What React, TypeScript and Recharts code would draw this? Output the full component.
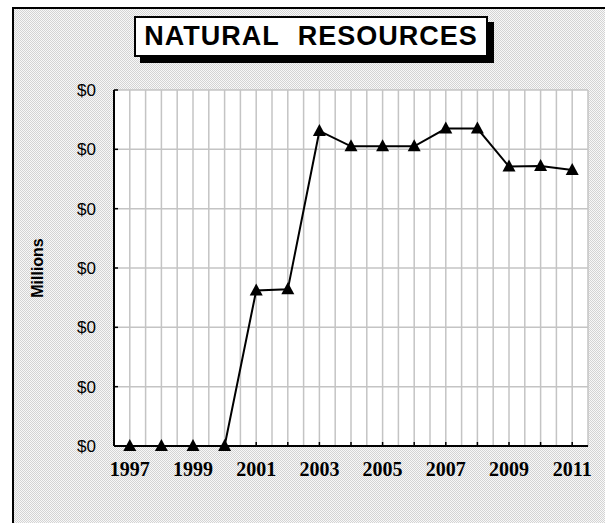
import { LineChart, Line, XAxis, YAxis, CartesianGrid } from 'recharts'

const years = [
  '1997', '1998', '1999', '2000', '2001', '2002', '2003', '2004',
  '2005', '2006', '2007', '2008', '2009', '2010', '2011',
]
const resources = [0, 0, 0, 0, 2.62, 2.64, 5.31, 5.05, 5.05, 5.05, 5.35, 5.35, 4.71, 4.72, 4.65]
const yTicks = [0, 1, 2, 3, 4, 5, 6]
const yTickLabels = ['$0', '$0', '$0', '$0', '$0', '$0', '$0']

const data = years.map((year, i) => ({ year, value: resources[i] }))

const pattern = 'repeating-conic-gradient(#d4d4d4 0 25%, #f8f8f8 0 50%) 0 0 / 2px 2px'

function Triangle(props: any) {
  const { cx, cy } = props
  if (cx == null || cy == null) return <g />
  return (
    <polygon
      points={`${cx},${cy - 7} ${cx - 6.5},${cy + 5} ${cx + 6.5},${cy + 5}`}
      fill="#000"
    />
  )
}

function YearTick(props: any) {
  const { x, y, payload } = props
  // label every other year, tick marks stay on all of them
  if (years.indexOf(payload.value) % 2 !== 0) return <g />
  return (
    <text
      x={x}
      y={y}
      dy="0.71em"
      textAnchor="middle"
      fontFamily="'Liberation Serif', 'Times New Roman', serif"
      fontWeight="bold"
      fontSize={20}
      fill="#000"
    >
      {payload.value}
    </text>
  )
}

function MillionsLabel(props: any) {
  const { viewBox } = props
  const x = viewBox.x + 37
  const y = viewBox.y + viewBox.height / 2
  return (
    <text
      x={x}
      y={y}
      transform={`rotate(-90 ${x} ${y})`}
      textAnchor="middle"
      dominantBaseline="central"
      fontFamily="'Liberation Sans', Arial, sans-serif"
      fontWeight="bold"
      fontSize={16}
      fill="#000"
    >
      Millions
    </text>
  )
}

export default function App() {
  return (
    <div style={{ position: 'fixed', left: 0, top: 0, width: 605, height: 523, background: '#fff' }}>
      <div
        style={{
          position: 'absolute',
          left: 12,
          top: 7,
          width: 593,
          height: 516,
          borderTop: '2px solid #000',
          borderLeft: '2px solid #000',
          boxSizing: 'border-box',
          background: pattern,
        }}
      />
      <div
        style={{
          position: 'absolute',
          left: 134,
          top: 16,
          width: 354,
          height: 41,
          border: '2px solid #000',
          boxSizing: 'border-box',
          background: '#fff',
          boxShadow: '6px 6px 0 #000',
          display: 'flex',
          alignItems: 'center',
          justifyContent: 'center',
          fontFamily: "'Liberation Sans', Arial, sans-serif",
          fontWeight: 'bold',
          fontSize: 27,
          letterSpacing: 1,
          wordSpacing: 10,
          color: '#000',
        }}
      >
        NATURAL RESOURCES
      </div>
      <div style={{ position: 'absolute', left: 0, top: 0 }}>
        <LineChart width={605} height={523} data={data} margin={{ top: 90, right: 17, bottom: 0, left: 0 }}>
          <CartesianGrid
            fill="#fff"
            stroke="#c4c4c4"
            strokeWidth={1.5}
            verticalCoordinatesGenerator={({ offset }: any) =>
              Array.from({ length: years.length * 2 + 1 }, (_, i) => offset.left + (offset.width * i) / (years.length * 2))
            }
          />
          <XAxis
            dataKey="year"
            scale="band"
            interval={0}
            height={77}
            axisLine={{ stroke: '#000', strokeWidth: 2 }}
            tickLine={{ stroke: '#000', strokeWidth: 1.5 }}
            tickSize={-4}
            tickMargin={20}
            tick={<YearTick />}
          />
          <XAxis
            xAxisId="top"
            orientation="top"
            dataKey="year"
            scale="band"
            height={0}
            tick={false}
            tickLine={false}
            axisLine={{ stroke: '#000', strokeWidth: 2 }}
          />
          <YAxis
            domain={[0, 6]}
            ticks={yTicks}
            width={114}
            interval={0}
            axisLine={{ stroke: '#000', strokeWidth: 2 }}
            tickLine={{ stroke: '#000', strokeWidth: 1.5 }}
            tickSize={-4}
            tickMargin={22}
            tickFormatter={(v: number) => yTickLabels[yTicks.indexOf(v)]}
            tick={{ fontSize: 17, fill: '#000', fontFamily: "'Liberation Sans', Arial, sans-serif" }}
            label={<MillionsLabel />}
          />
          <YAxis
            yAxisId="right"
            orientation="right"
            width={0}
            tick={false}
            tickLine={false}
            axisLine={{ stroke: '#000', strokeWidth: 2 }}
          />
          <Line
            type="linear"
            dataKey="value"
            stroke="#000"
            strokeWidth={2}
            dot={<Triangle />}
            activeDot={false}
            isAnimationActive={false}
          />
        </LineChart>
      </div>
    </div>
  )
}
